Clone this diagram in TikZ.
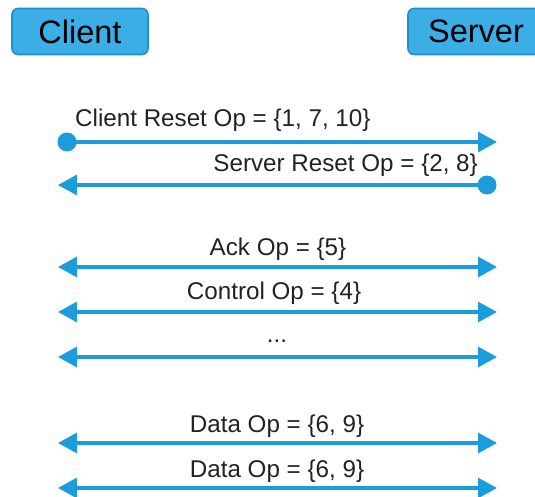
\documentclass[tikz,border=0pt]{standalone}
\usepackage{fontspec}
\setmainfont{Liberation Sans}
\usetikzlibrary{arrows.meta}
\definecolor{arrowblue}{HTML}{1C9CDB}
\definecolor{boxfill}{HTML}{3BAEE6}
\definecolor{boxline}{HTML}{1E8FD2}
\definecolor{txt}{HTML}{222222}
\tikzset{
  x=1pt, y=-1pt,
  party/.style={draw=boxline, fill=boxfill, line width=1.6pt, rounded corners=6pt,
    minimum height=46pt, inner sep=0pt, text=black, font=\fontsize{32.5}{36}\selectfont},
  msg/.style={draw=arrowblue, line width=3.2pt},
  tipR/.style={-{Triangle[length=19pt,width=20pt]}},
  tipLR/.style={{Triangle[length=19pt,width=20pt]}-{Triangle[length=19pt,width=20pt]}},
  dotend/.style={circle, fill=arrowblue, inner sep=0pt, minimum size=19pt},
  lbl/.style={inner sep=0pt, text=txt, font=\fontsize{24.2}{27}\selectfont},
}
\begin{document}
\begin{tikzpicture}
\useasboundingbox (0,0) rectangle (535,497);
\begin{scope}
\clip (0,0) rectangle (535,497);
\node[party, minimum width=136pt] (client) at (80,31.5) {Client};
\node[party, minimum width=136pt] (server) at (476,31.5) {Server};
\end{scope}

% endpoints
\node[dotend] (d1) at (67,142) {};
\coordinate (r1) at (497,142);
\node[dotend] (d2) at (487,185) {};
\coordinate (l2) at (58,185);
\coordinate (l3) at (58,267);  \coordinate (r3) at (497,267);
\coordinate (l4) at (58,312);  \coordinate (r4) at (497,312);
\coordinate (l5) at (58,357);  \coordinate (r5) at (497,357);
\coordinate (l6) at (58,443);  \coordinate (r6) at (497,443);
\coordinate (l7) at (58,488);  \coordinate (r7) at (497,488);

\draw[msg, tipR] (d1.center) -- (r1);
\draw[msg, tipR] (d2.center) -- (l2);
\draw[msg, tipLR] (l3) -- (r3);
\draw[msg, tipLR] (l4) -- (r4);
\draw[msg, tipLR] (l5) -- (r5);
\draw[msg, tipLR] (l6) -- (r6);
\draw[msg, tipLR] (l7) -- (r7);

% labels
\node[lbl, anchor=base west] (t1) at (75,127) {Client Reset Op = \{1, 7, 10\}};
\node[lbl, anchor=base east] (t2) at (478,172) {Server Reset Op = \{2, 8\}};
\node[lbl, anchor=base] (t3) at (278,255) {Ack Op = \{5\}};
\node[lbl, anchor=base] (t4) at (274,299) {Control Op = \{4\}};
\node[lbl, anchor=base] (t5) at (277,342) {...};
\node[lbl, anchor=base] (t6) at (277,432) {Data Op = \{6, 9\}};
\node[lbl, anchor=base] (t7) at (277,477) {Data Op = \{6, 9\}};
\end{tikzpicture}
\end{document}
